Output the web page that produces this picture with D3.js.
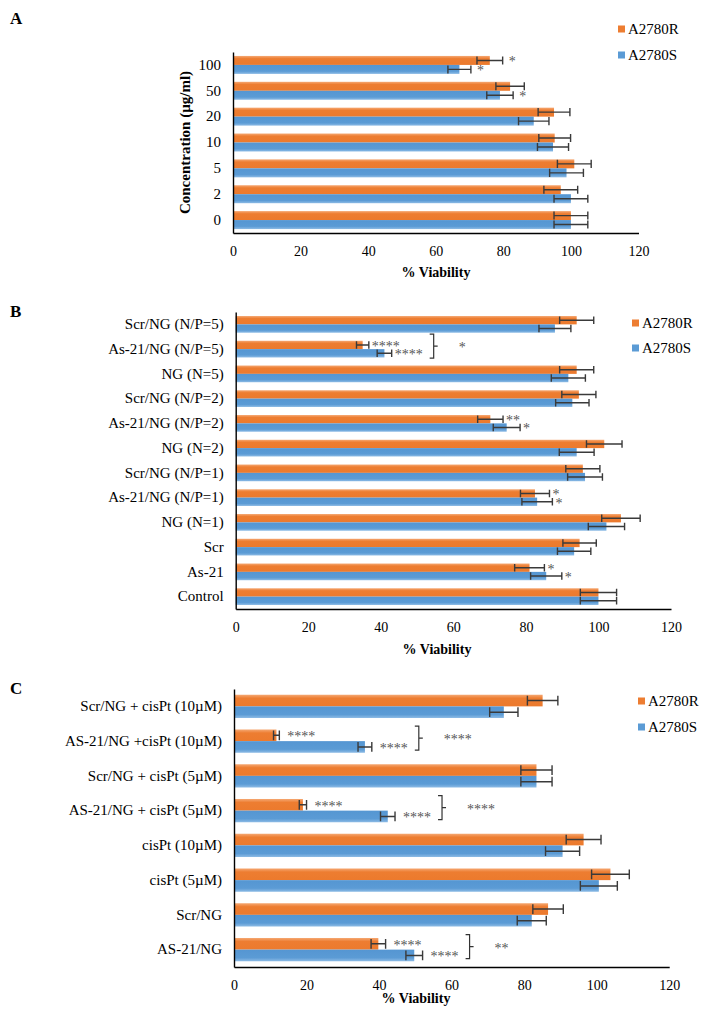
<!DOCTYPE html>
<html><head><meta charset="utf-8">
<script src="https://cdn.jsdelivr.net/npm/d3@7/dist/d3.min.js"></script>
<style>
body{margin:0;background:#fff}
svg{display:block}
text{font-family:"Liberation Serif","Times New Roman",serif;fill:#000}
</style>
</head><body>
<svg id="chart" width="703" height="1018"></svg>
<script>
// ---------- data ----------
const seriesNames = ["A2780R", "A2780S"];
const xTicks = [0, 20, 40, 60, 80, 100, 120];

// Panel A
const catsA = ["100", "50", "20", "10", "5", "2", "0"];
const valRA = [76, 82, 95, 95.2, 101, 97, 100];
const errRA = [3.8, 4.2, 4.7, 4.7, 5, 5, 5];
const valSA = [67, 79, 89, 94.7, 98.7, 100, 100];
const errSA = [3.4, 3.9, 4.5, 4.6, 5, 5, 5];
const sigRA = ["*", "", "", "", "", "", ""];
const sigSA = ["*", "*", "", "", "", "", ""];
const grpA  = ["", "", "", "", "", "", ""];

// Panel B
const catsB = ["Scr/NG (N/P=5)", "As-21/NG (N/P=5)", "NG (N=5)", "Scr/NG (N/P=2)", "As-21/NG (N/P=2)", "NG (N=2)",
               "Scr/NG (N/P=1)", "As-21/NG (N/P=1)", "NG (N=1)", "Scr", "As-21", "Control"];
const valRB = [94, 35, 94, 94.6, 70.2, 101.6, 95.7, 82.5, 106.2, 94.8, 81, 100];
const errRB = [4.7, 1.7, 4.7, 4.7, 3.5, 4.9, 4.7, 4, 5.3, 4.6, 4.1, 5];
const valSB = [88, 41, 91.7, 92.8, 74.7, 94, 96.3, 83.1, 102.2, 93.3, 85.6, 100];
const errSB = [4.4, 2, 4.7, 4.6, 3.7, 4.8, 4.8, 4.2, 5, 4.6, 4.3, 5];
const sigRB = ["", "****", "", "", "**", "", "", "*", "", "", "*", ""];
const sigSB = ["", "****", "", "", "*", "", "", "*", "", "", "*", ""];
const grpB  = ["", "*", "", "", "", "", "", "", "", "", "", ""];

// Panel C
const catsC = ["Scr/NG + cisPt (10µM)", "AS-21/NG +cisPt (10µM)", "Scr/NG + cisPt (5µM)", "AS-21/NG + cisPt (5µM)",
               "cisPt (10µM)", "cisPt (5µM)", "Scr/NG", "AS-21/NG"];
const valRC = [85.1, 11.7, 83.4, 19, 96.4, 103.8, 86.6, 39.8];
const errRC = [4.2, 0.8, 4.3, 1, 4.8, 5.2, 4.2, 2];
const valSC = [74.4, 36.1, 83.4, 42.4, 90.6, 100.6, 82.1, 49.7];
const errSC = [3.9, 1.9, 4.3, 2, 4.7, 5.1, 4, 2.3];
const sigRC = ["", "****", "", "****", "", "", "", "****"];
const sigSC = ["", "****", "", "****", "", "", "", "****"];
const grpC  = ["", "****", "", "****", "", "", "", "**"];

// ---------- drawing ----------
const svg = d3.select("#chart");
const colors = {A2780R: "#ED7D31", A2780S: "#5B9BD5"};

const defs = svg.append("defs");
const gR = defs.append("linearGradient").attr("id", "gR").attr("x1", 0).attr("y1", 0).attr("x2", 0).attr("y2", 1);
gR.append("stop").attr("offset", "0%").attr("stop-color", "#F5A873");
gR.append("stop").attr("offset", "30%").attr("stop-color", "#ED7D31");
gR.append("stop").attr("offset", "100%").attr("stop-color", "#EC7A2D");
const gS = defs.append("linearGradient").attr("id", "gS").attr("x1", 0).attr("y1", 0).attr("x2", 0).attr("y2", 1);
gS.append("stop").attr("offset", "0%").attr("stop-color", "#5596D2");
gS.append("stop").attr("offset", "70%").attr("stop-color", "#5B9BD5");
gS.append("stop").attr("offset", "100%").attr("stop-color", "#8DBBE5");
const fills = {A2780R: "url(#gR)", A2780S: "url(#gS)"};

function drawPanel(cfg, cats, vR, eR, vS, eS, sR, sS, grp) {
  const g = svg.append("g");
  const x = d3.scaleLinear().domain([0, 120]).range([cfg.x0, cfg.x1]);
  const y = d3.scaleBand().domain(cats).range([cfg.top, cfg.bottom])
              .paddingInner(cfg.pad).paddingOuter(cfg.pad / 2);
  const sub = d3.scaleBand().domain(seriesNames).range([0, y.bandwidth()]);
  const bh = sub.bandwidth();

  const rows = cats.map((c, i) => ({
    cat: c,
    series: [
      {name: "A2780R", v: vR[i], e: eR[i], sig: sR[i]},
      {name: "A2780S", v: vS[i], e: eS[i], sig: sS[i]}
    ],
    grp: grp[i]
  }));

  // bars
  const rowG = g.selectAll(".row").data(rows).join("g")
    .attr("transform", d => `translate(0,${y(d.cat)})`);
  rowG.selectAll("rect").data(d => d.series).join("rect")
    .attr("x", x(0)).attr("y", d => sub(d.name))
    .attr("width", d => x(d.v) - x(0)).attr("height", bh)
    .attr("fill", d => fills[d.name]);

  // error bars
  const cap = bh * cfg.cap;
  rowG.selectAll("path.err").data(d => d.series).join("path").attr("class", "err")
    .attr("d", d => {
      const cy = sub(d.name) + bh / 2, a = x(d.v - d.e), b = x(d.v + d.e);
      return `M${a},${cy}H${b}M${a},${cy - cap}V${cy + cap}M${b},${cy - cap}V${cy + cap}`;
    })
    .attr("fill", "none").attr("stroke", "#3a3a3a").attr("stroke-width", 1.4);

  // significance stars
  rows.forEach(r => {
    const cyBand = y(r.cat) + y.bandwidth() / 2;
    let maxEnd = 0;
    r.series.forEach(s => {
      if (!s.sig) return;
      const cy = y(r.cat) + sub(s.name) + bh / 2;
      const t = g.append("text").attr("x", x(s.v + s.e) + cfg.gap).attr("y", cy)
        .attr("dy", "0.42em").attr("font-size", 14).style("fill", "#555").text(s.sig);
      maxEnd = Math.max(maxEnd, x(s.v + s.e) + cfg.gap + t.node().getComputedTextLength());
    });
    if (r.grp) {
      const bx = maxEnd + 11, yt = cyBand - 15, yb = cyBand + 9, ym = cyBand - 3;
      g.append("path").attr("d", `M${bx - 4},${yt}H${bx}V${yb}H${bx - 4}M${bx},${ym}H${bx + 4}`)
        .attr("fill", "none").attr("stroke", "#333").attr("stroke-width", 1.2);
      g.append("text").attr("x", bx + 25).attr("y", ym).attr("dy", "0.42em")
        .attr("font-size", 14).style("fill", "#555").text(r.grp);
    }
  });

  // axes
  const xa = g.append("g").attr("transform", `translate(0,${cfg.bottom})`)
    .call(d3.axisBottom(x).tickValues(xTicks).tickSize(0).tickSizeOuter(0));
  xa.select(".domain").attr("stroke", "#000").attr("stroke-width", 1.4);
  xa.selectAll("text").attr("y", 18).attr("dy", "0.35em").attr("font-size", 14)
    .attr("font-family", "Liberation Serif").style("fill", "#000");

  const ya = g.append("g").attr("transform", `translate(${cfg.x0},0)`)
    .call(d3.axisLeft(y).tickSize(0).tickSizeOuter(0).tickPadding(12));
  ya.select(".domain").attr("stroke", "#000").attr("stroke-width", 1.4);
  ya.selectAll("text").attr("font-size", 15).attr("font-family", "Liberation Serif").style("fill", "#000");

  // x title
  g.append("text").attr("x", cfg.xtx).attr("y", cfg.bottom + cfg.xty).attr("dy", "0.35em")
    .attr("text-anchor", "middle").attr("font-size", 14).attr("font-weight", "bold").text("% Viability");

  // y title
  if (cfg.ytitle) {
    g.append("text").attr("transform", `translate(${cfg.ytx},${(cfg.top + cfg.bottom) / 2}) rotate(-90)`)
      .attr("dy", "0.35em").attr("text-anchor", "middle").attr("font-size", 15)
      .attr("font-weight", "bold").text(cfg.ytitle);
  }

  // panel letter
  g.append("text").attr("x", 10).attr("y", cfg.ly).attr("dy", "0.35em")
    .attr("font-size", 17).attr("font-weight", "bold").text(cfg.letter);

  // legend
  const lg = g.append("g").attr("transform", `translate(${cfg.legX},${cfg.legY})`);
  seriesNames.forEach((n, i) => {
    lg.append("rect").attr("x", 0).attr("y", i * cfg.legStep - 3.5).attr("width", 7).attr("height", 7)
      .attr("fill", colors[n]);
    lg.append("text").attr("x", 10).attr("y", i * cfg.legStep).attr("dy", "0.35em")
      .attr("font-size", 15).text(n);
  });
}

drawPanel({x0: 233, x1: 638.5, top: 52, bottom: 233, pad: 0.305, cap: 0.45, gap: 6,
           xtx: 436, xty: 39, ytitle: "Concentration (µg/ml)", ytx: 185, letter: "A", ly: 18,
           legX: 618, legY: 29, legStep: 26},
          catsA, valRA, errRA, valSA, errSA, sigRA, sigSA, grpA);

drawPanel({x0: 235.7, x1: 671, top: 312, bottom: 609, pad: 0.325, cap: 0.45, gap: 3,
           xtx: 437, xty: 40, ytitle: null, letter: "B", ly: 311,
           legX: 632, legY: 323, legStep: 25},
          catsB, valRB, errRB, valSB, errSB, sigRB, sigSB, grpB);

drawPanel({x0: 234, x1: 669.2, top: 689, bottom: 967, pad: 0.33, cap: 0.42, gap: 8,
           xtx: 416, xty: 31, ytitle: null, letter: "C", ly: 688,
           legX: 638, legY: 701, legStep: 26},
          catsC, valRC, errRC, valSC, errSC, sigRC, sigSC, grpC);
</script>
</body></html>
